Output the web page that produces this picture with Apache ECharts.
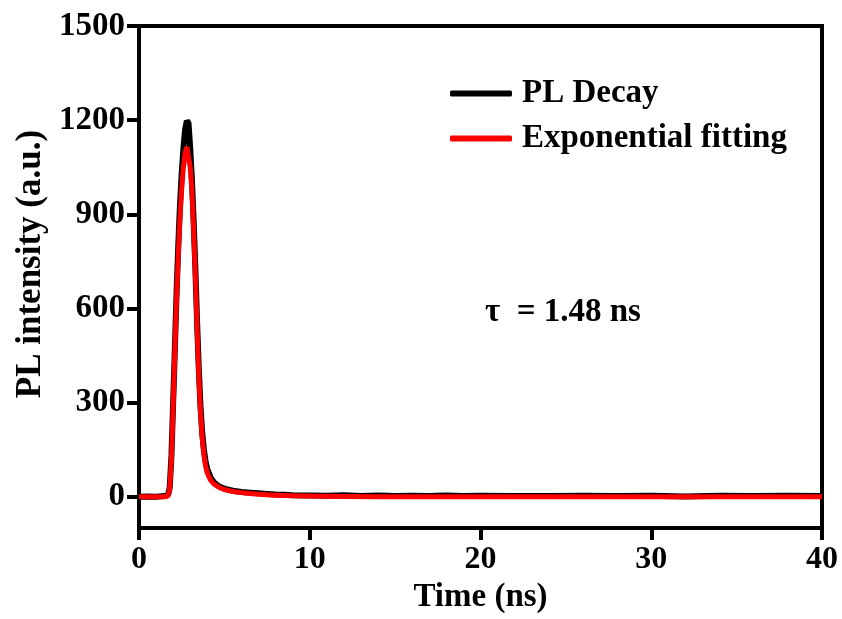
<!DOCTYPE html>
<html>
<head>
<meta charset="utf-8">
<script src="https://cdn.jsdelivr.net/npm/echarts@6/dist/echarts.min.js"></script>
<style>
html,body{margin:0;padding:0;background:#fff;}
#c{width:842px;height:619px;}
</style>
</head>
<body>
<div id="c"></div>
<script>
// Time axis (ns) and intensities
var decayTime = [0, 0.5, 1.0, 1.5, 1.7, 1.8, 1.9, 2.0, 2.1, 2.2, 2.3, 2.4, 2.5, 2.6, 2.7, 2.8, 2.85, 2.9, 3.0, 3.1, 3.2, 3.3, 3.4, 3.5, 3.6, 3.7, 3.8, 3.9, 4.0, 4.2, 4.4, 4.6, 4.8, 5.0, 5.3, 5.6, 6.0, 6.5, 7.0, 7.5, 8.0, 8.5, 9.0, 10, 11, 12, 13, 14, 15, 16, 17, 18, 19, 20, 22, 24, 26, 28, 30, 32, 34, 36, 38, 40];
var decayValues = [0, 1, 0, 2, 5, 30, 130, 300, 470, 650, 800, 930, 1030, 1110, 1170, 1198, 1200, 1190, 1110, 1010, 880, 730, 560, 410, 290, 205, 150, 112, 88, 60, 45, 36, 30, 26, 22, 18, 15, 13, 11, 9, 7, 6, 5, 4, 3, 5, 2, 4, 2, 3, 2, 4, 2, 3, 2, 2, 3, 2, 3, 1, 3, 2, 3, 2];
var fitTime = [0, 0.5, 1.0, 1.5, 1.7, 1.8, 1.9, 2.0, 2.1, 2.2, 2.3, 2.4, 2.5, 2.6, 2.7, 2.8, 2.85, 2.9, 3.0, 3.1, 3.2, 3.3, 3.4, 3.5, 3.6, 3.7, 3.8, 3.9, 4.0, 4.2, 4.4, 4.6, 4.8, 5.0, 5.3, 5.6, 6.0, 6.5, 7.0, 7.5, 8.0, 9.0, 10, 12, 14, 16, 20, 25, 30, 35, 40];
var fitValues = [0, 0, 0, 0, 3, 25, 120, 290, 460, 630, 770, 890, 980, 1050, 1095, 1115, 1116, 1110, 1050, 975, 850, 710, 540, 390, 270, 190, 135, 98, 75, 52, 40, 33, 27, 23, 19, 16, 13, 10, 8, 6, 5, 3, 2, 1, 0, 0, 0, 0, 0, 0, 0];
var xTicks = [0, 10, 20, 30, 40];
var yTicks = [0, 300, 600, 900, 1200, 1500];
var seriesNames = ['PL Decay', 'Exponential fitting'];
var tauLabel = 'τ  = 1.48 ns';

function pairs(xs, ys) { return xs.map(function (x, i) { return [x, ys[i]]; }); }

var FONT = '"Liberation Serif", "Times New Roman", serif';
var chart = echarts.init(document.getElementById('c'), null, { renderer: 'canvas' });
chart.setOption({
  animation: false,
  backgroundColor: '#fff',
  grid: { left: 139, right: 20, top: 26, bottom: 89, show: true, borderColor: '#000', borderWidth: 4, containLabel: false },
  legend: {
    data: seriesNames,
    orient: 'vertical',
    left: 450, top: 77,
    padding: 0,
    itemWidth: 62, itemHeight: 6, itemGap: 12,
    icon: 'roundRect',
    textStyle: { fontFamily: FONT, fontWeight: 'bold', fontSize: 33, color: '#000', padding: [0, 0, 0, 5] }
  },
  xAxis: {
    type: 'value', min: 0, max: 40, interval: 10,
    name: 'Time (ns)', nameLocation: 'middle', nameGap: 48,
    nameTextStyle: { fontFamily: FONT, fontWeight: 'bold', fontSize: 33, color: '#000' },
    axisLine: { show: true, onZero: false, lineStyle: { color: '#000', width: 4 } },
    axisTick: { show: true, inside: false, length: 12, lineStyle: { color: '#000', width: 4 }, customValues: xTicks },
    axisLabel: { fontFamily: FONT, fontWeight: 'bold', fontSize: 32, color: '#000', margin: 16, customValues: xTicks,
      formatter: function (v) { return String(v); } },
    splitLine: { show: false }
  },
  yAxis: {
    type: 'value', min: -100, max: 1500,
    name: 'PL intensity (a.u.)', nameLocation: 'middle', nameGap: 91, nameRotate: 90,
    nameTextStyle: { fontFamily: FONT, fontWeight: 'bold', fontSize: 35, color: '#000', padding: [0, 0, 0, 26] },
    axisLine: { show: true, onZero: false, lineStyle: { color: '#000', width: 4 } },
    axisTick: { show: true, inside: false, length: 12, lineStyle: { color: '#000', width: 4 }, customValues: yTicks },
    axisLabel: { fontFamily: FONT, fontWeight: 'bold', fontSize: 33, color: '#000', margin: 14, customValues: yTicks,
      formatter: function (v) { return String(v); } },
    splitLine: { show: false }
  },
  graphic: [{
    type: 'text', left: 485, top: 296, z: 100,
    style: { text: tauLabel, fontFamily: FONT, fontWeight: 'bold', fontSize: 33, fill: '#000' }
  }],
  series: [
    { name: seriesNames[0], type: 'line', data: pairs(decayTime, decayValues), showSymbol: false, symbol: 'none',
      lineStyle: { color: '#000', width: 6 }, itemStyle: { color: '#000' }, z: 2 },
    { name: seriesNames[1], type: 'line', data: pairs(fitTime, fitValues), showSymbol: false, symbol: 'none',
      lineStyle: { color: '#ff0000', width: 5 }, itemStyle: { color: '#ff0000' }, z: 3 }
  ]
});
</script>
</body>
</html>
